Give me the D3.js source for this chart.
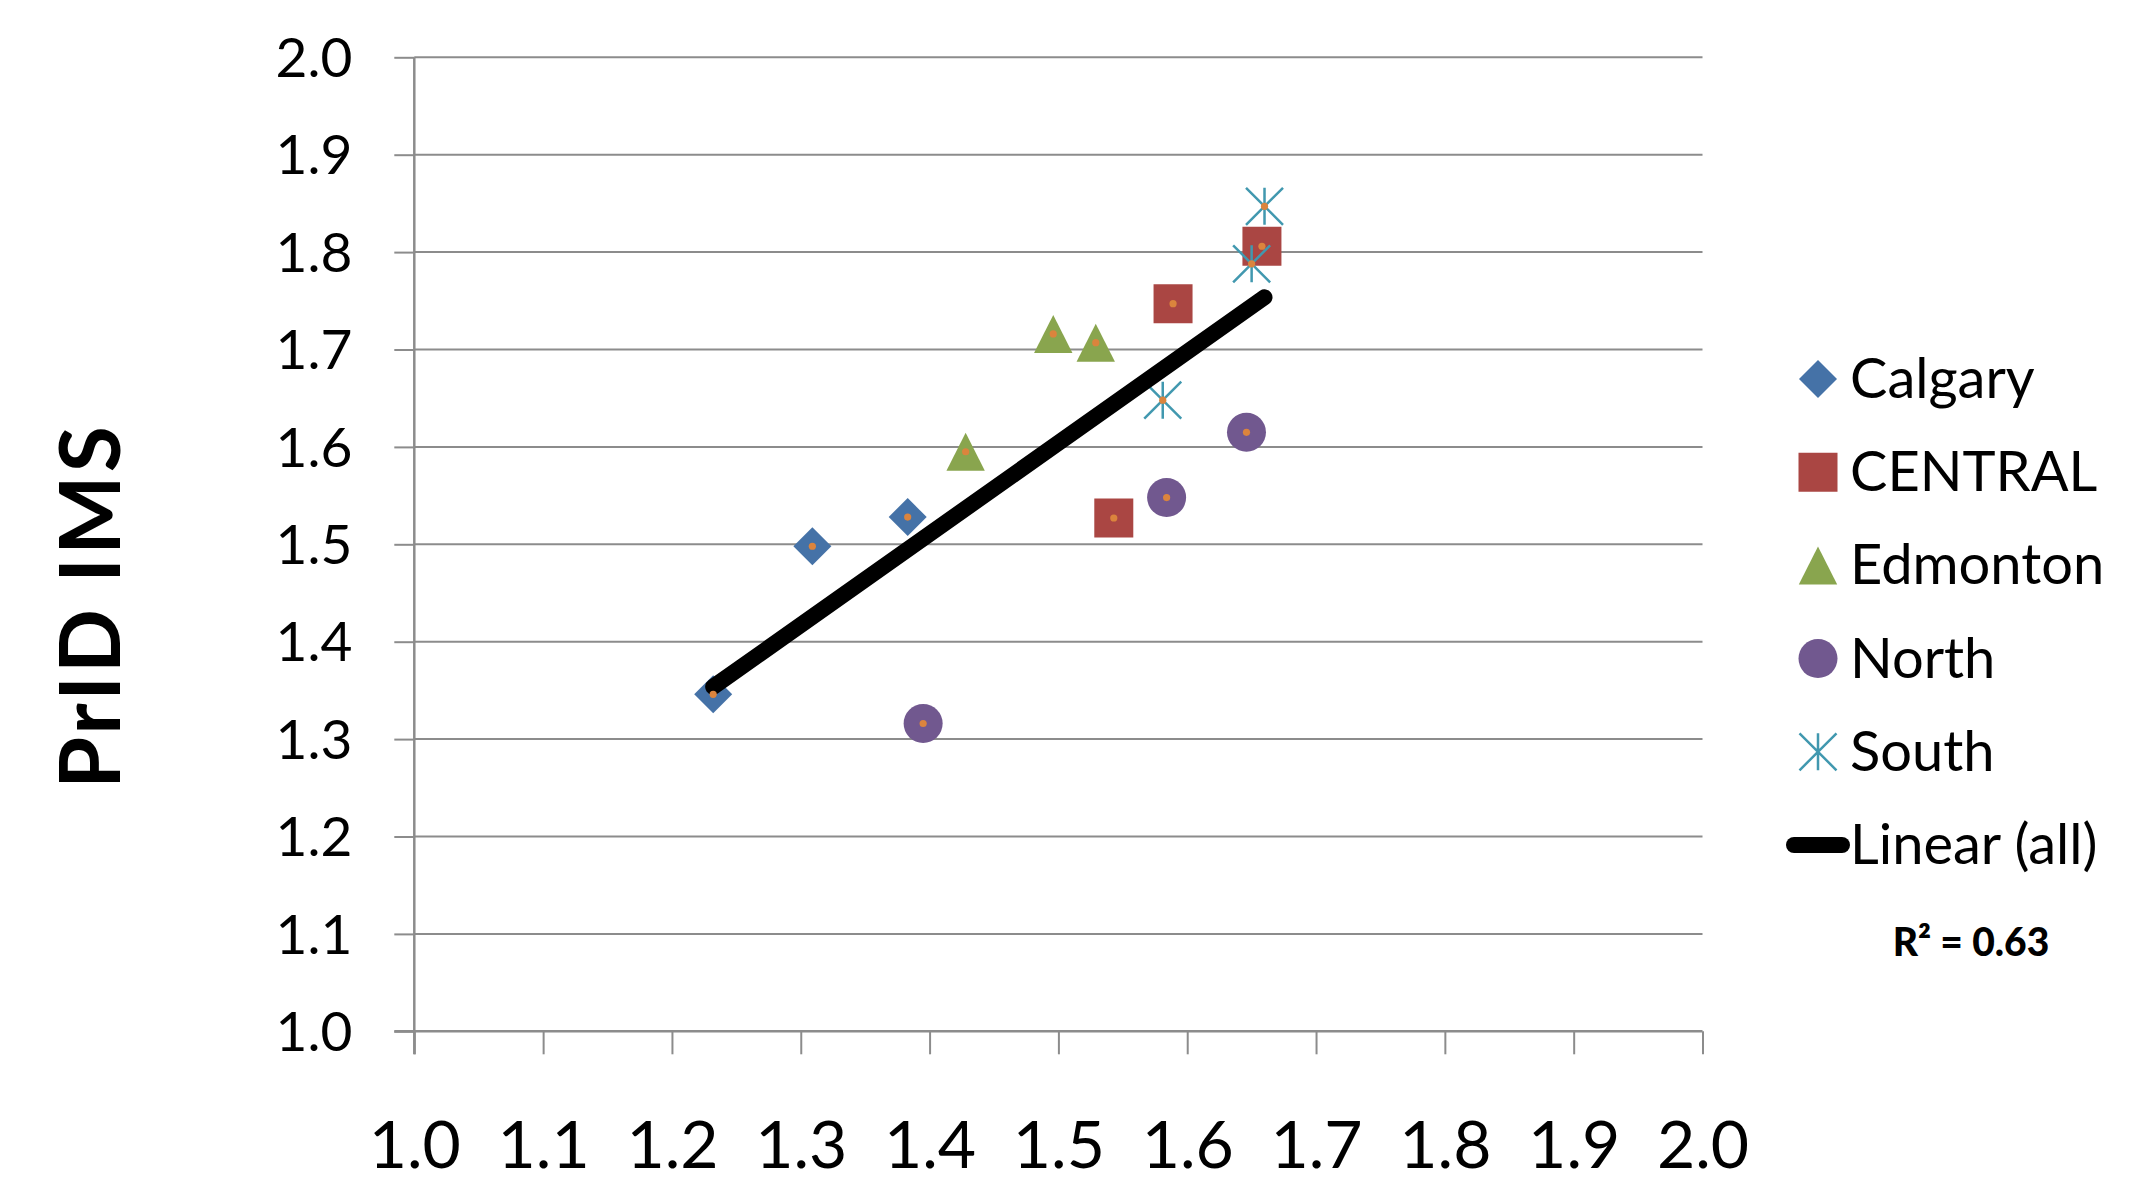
<!DOCTYPE html>
<html><head><meta charset="utf-8">
<script src="https://cdn.jsdelivr.net/npm/d3@7"></script>
<style>body{margin:0;background:#fff} svg{display:block}</style>
</head><body>
<script>
// ---------- data ----------
const xTickValues = [1.0,1.1,1.2,1.3,1.4,1.5,1.6,1.7,1.8,1.9,2.0];
const xTickLabels = ["1.0","1.1","1.2","1.3","1.4","1.5","1.6","1.7","1.8","1.9","2.0"];
const yTickValues = [1.0,1.1,1.2,1.3,1.4,1.5,1.6,1.7,1.8,1.9,2.0];
const yTickLabels = ["1.0","1.1","1.2","1.3","1.4","1.5","1.6","1.7","1.8","1.9","2.0"];

const seriesNames = ["Calgary","CENTRAL","Edmonton","North","South"];
const calgaryX  = [1.232, 1.309, 1.383];
const calgaryY  = [1.346, 1.498, 1.528];
const centralX  = [1.658, 1.589, 1.543];
const centralY  = [1.806, 1.747, 1.527];
const edmontonX = [1.496, 1.529, 1.428];
const edmontonY = [1.716, 1.707, 1.595];
const northX    = [1.646, 1.584, 1.395];
const northY    = [1.615, 1.548, 1.316];
const southX    = [1.660, 1.650, 1.581];
const southY    = [1.847, 1.788, 1.648];

const yTitle = "PrID IMS";
const trendName = "Linear (all)";

// ---------- setup ----------
const W = 2130, H = 1184;
const FONT = "Lato, 'Open Sans', sans-serif";
const svg = d3.select("body").append("svg").attr("width", W).attr("height", H);

const x = d3.scaleLinear().domain([1, 2]).range([414.3, 1702.5]);
const y = d3.scaleLinear().domain([1, 2]).range([1031.3, 57.3]);

const gridColor = "#8c8c8c";

// gridlines
svg.append("g").selectAll("line").data(yTickValues.slice(1)).join("line")
  .attr("x1", x(1)).attr("x2", x(2))
  .attr("y1", d => y(d)).attr("y2", d => y(d))
  .attr("stroke", gridColor).attr("stroke-width", 2);

// y axis
const yAxis = svg.append("g").attr("transform", `translate(${x(1)},0)`)
  .call(d3.axisLeft(y).tickValues(yTickValues).tickSize(20).tickSizeOuter(0).tickPadding(42)
    .tickFormat((d, i) => yTickLabels[i]));
yAxis.select(".domain").remove();
yAxis.append("line").attr("x1", 0).attr("x2", 0).attr("y1", y(2)).attr("y2", y(1) + 23)
  .attr("stroke", gridColor).attr("stroke-width", 2.5);
yAxis.selectAll(".tick line").attr("stroke", gridColor).attr("stroke-width", 2);
yAxis.selectAll(".tick text").attr("font-family", FONT).attr("font-size", 55)
  .attr("fill", "#000").attr("dy", "0.35em");

// x axis
const xAxis = svg.append("g").attr("transform", `translate(0,${y(1)})`)
  .call(d3.axisBottom(x).tickValues(xTickValues).tickSize(23).tickSizeOuter(0)
    .tickFormat((d, i) => xTickLabels[i]));
xAxis.select(".domain").remove();
xAxis.append("line").attr("x1", x(1) - 20).attr("x2", x(2)).attr("y1", 0).attr("y2", 0)
  .attr("stroke", gridColor).attr("stroke-width", 2.5);
xAxis.selectAll(".tick line").attr("stroke", gridColor).attr("stroke-width", 2);
xAxis.selectAll(".tick text").attr("font-family", FONT).attr("font-size", 66)
  .attr("fill", "#000").attr("y", 137).attr("dy", 0);

// y title
svg.append("text").attr("transform", `translate(120,606) rotate(-90)`)
  .attr("text-anchor", "middle").attr("font-family", FONT).attr("font-weight", 700)
  .attr("font-size", 84).attr("letter-spacing", 3).text(yTitle);

// ---------- marker symbols ----------
const diamondSym = {draw(c, s){const r = Math.sqrt(s)/2; c.moveTo(0,-r); c.lineTo(r,0); c.lineTo(0,r); c.lineTo(-r,0); c.closePath();}};
const triangleSym = {draw(c, s){const r = Math.sqrt(s)/2; c.moveTo(0,-r); c.lineTo(r*1.01,r); c.lineTo(-r*1.01,r); c.closePath();}};
const asteriskSym = {draw(c, s){const r = Math.sqrt(s)/2; c.moveTo(0,-r); c.lineTo(0,r); c.moveTo(-r,-r); c.lineTo(r,r); c.moveTo(r,-r); c.lineTo(-r,r);}};

const series = [
  {name: seriesNames[0], xs: calgaryX,  ys: calgaryY,  sym: diamondSym,  size: 38*38, fill: "#4572A7", stroke: "none"},
  {name: seriesNames[1], xs: centralX,  ys: centralY,  sym: d3.symbolSquare, size: 39*39, fill: "#AA4643", stroke: "none"},
  {name: seriesNames[2], xs: edmontonX, ys: edmontonY, sym: triangleSym, size: 38*38, fill: "#89A54E", stroke: "none"},
  {name: seriesNames[3], xs: northX,    ys: northY,    sym: d3.symbolCircle, size: Math.PI*19.5*19.5, fill: "#71588F", stroke: "none"},
  {name: seriesNames[4], xs: southX,    ys: southY,    sym: asteriskSym, size: 37*37, fill: "none", stroke: "#4198AF"}
];

const plot = svg.append("g");
series.forEach(s => {
  const pts = s.xs.map((v, i) => [v, s.ys[i]]);
  plot.append("g").selectAll("path").data(pts).join("path")
    .attr("transform", d => `translate(${x(d[0])},${y(d[1])})`)
    .attr("d", d3.symbol(s.sym, s.size)())
    .attr("fill", s.fill).attr("stroke", s.stroke).attr("stroke-width", 2.5);
});

// all points + linear fit
const allPts = series.flatMap(s => s.xs.map((v, i) => [v, s.ys[i]]));
const mx = d3.mean(allPts, d => d[0]), my = d3.mean(allPts, d => d[1]);
const sxy = d3.sum(allPts, d => (d[0]-mx)*(d[1]-my));
const sxx = d3.sum(allPts, d => (d[0]-mx)**2);
const syy = d3.sum(allPts, d => (d[1]-my)**2);
const slope = sxy / sxx, icpt = my - slope*mx;
const r2 = sxy*sxy/(sxx*syy);
const [xmin, xmax] = d3.extent(allPts, d => d[0]);

plot.append("path")
  .attr("d", d3.line().x(d => x(d)).y(d => y(icpt + slope*d))([xmin, xmax]))
  .attr("stroke", "#000").attr("stroke-width", 16).attr("stroke-linecap", "round").attr("fill", "none");

plot.append("g").selectAll("circle").data(allPts).join("circle")
  .attr("cx", d => x(d[0])).attr("cy", d => y(d[1])).attr("r", 3.6).attr("fill", "#DB843D");

// ---------- legend ----------
const legend = svg.append("g");
const rowY = i => 379 + i*93.2;
series.forEach((s, i) => {
  legend.append("path").attr("transform", `translate(1818,${rowY(i)})`)
    .attr("d", d3.symbol(s.sym, s.size)())
    .attr("fill", s.fill).attr("stroke", s.stroke).attr("stroke-width", 2.5);
  legend.append("text").attr("x", 1850).attr("y", rowY(i) + 19)
    .attr("font-family", FONT).attr("font-size", 56).text(s.name);
});
legend.append("line").attr("x1", 1794).attr("x2", 1842).attr("y1", rowY(5)).attr("y2", rowY(5))
  .attr("stroke", "#000").attr("stroke-width", 16).attr("stroke-linecap", "round");
legend.append("text").attr("x", 1850).attr("y", rowY(5) + 19)
  .attr("font-family", FONT).attr("font-size", 56).text(trendName);
legend.append("text").attr("x", 1971).attr("y", 956).attr("text-anchor", "middle")
  .attr("font-family", FONT).attr("font-weight", 900).attr("font-size", 39)
  .text("R² = " + r2.toFixed(2));
</script>
</body></html>
